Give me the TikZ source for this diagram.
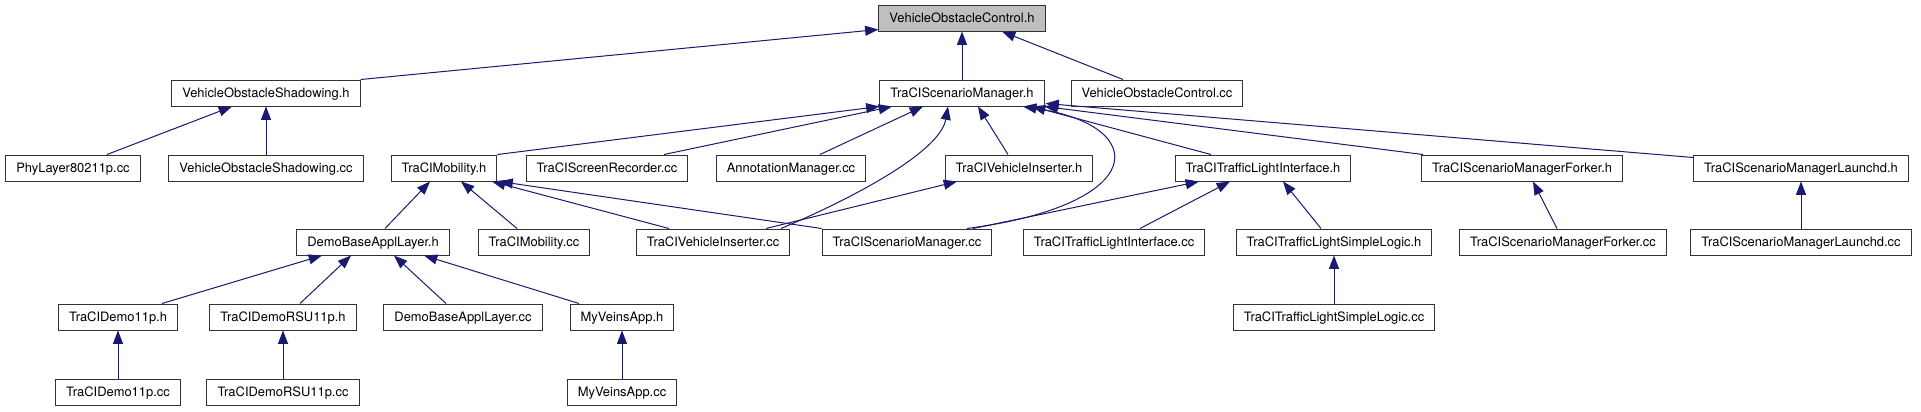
\documentclass[tikz,border=0pt]{standalone}
\usepackage{fontspec}
\setmainfont{TeX Gyre Heros}
\usetikzlibrary{arrows.meta, calc}
\definecolor{DotEdge}{RGB}{25,25,112}
\definecolor{DotRoot}{RGB}{191,191,191}

\begin{document}
\begin{tikzpicture}[x=0.75pt, y=-0.75pt,
  file/.style={rectangle, draw=black!80, fill=white, line width=0.75pt, minimum height=19.5pt, inner xsep=7.9pt, inner ysep=0pt, text height=7pt, text depth=0pt, font=\fontsize{9.7}{11}\selectfont},
  rootfile/.style={file, fill=DotRoot},
  inc/.style={-{Triangle[length=10pt,width=7.5pt]}, line width=0.75pt, DotEdge}
]
\useasboundingbox (0,0) rectangle (1921,411);

% Root
\node[rootfile] (voc_h) at (962,18) {VehicleObstacleControl.h};

% Row 1
\node[file] (vos_h) at (266,93) {VehicleObstacleShadowing.h};
\node[file] (tsm_h) at (962,93) {TraCIScenarioManager.h};
\node[file] (voc_cc) at (1157,93) {VehicleObstacleControl.cc};

% Row 2
\node[file] (phy_cc) at (73,168) {PhyLayer80211p.cc};
\node[file] (vos_cc) at (266,168) {VehicleObstacleShadowing.cc};
\node[file] (mob_h) at (444,168) {TraCIMobility.h};
\node[file] (rec_cc) at (607,168) {TraCIScreenRecorder.cc};
\node[file] (ann_cc) at (791,168) {AnnotationManager.cc};
\node[file] (vi_h) at (1019,168) {TraCIVehicleInserter.h};
\node[file] (tli_h) at (1263,168) {TraCITrafficLightInterface.h};
\node[file] (fork_h) at (1522,168) {TraCIScenarioManagerForker.h};
\node[file] (launch_h) at (1801,168) {TraCIScenarioManagerLaunchd.h};

% Row 3
\node[file] (dbal_h) at (373,242) {DemoBaseApplLayer.h};
\node[file] (mob_cc) at (534,242) {TraCIMobility.cc};
\node[file] (vi_cc) at (713,242) {TraCIVehicleInserter.cc};
\node[file] (tsm_cc) at (907,242) {TraCIScenarioManager.cc};
\node[file] (tli_cc) at (1114,242) {TraCITrafficLightInterface.cc};
\node[file] (tls_h) at (1334,242) {TraCITrafficLightSimpleLogic.h};
\node[file] (fork_cc) at (1563,242) {TraCIScenarioManagerForker.cc};
\node[file] (launch_cc) at (1801,242) {TraCIScenarioManagerLaunchd.cc};

% Row 4
\node[file] (demo_h) at (118,317) {TraCIDemo11p.h};
\node[file] (rsu_h) at (283,317) {TraCIDemoRSU11p.h};
\node[file] (dbal_cc) at (463,317) {DemoBaseApplLayer.cc};
\node[file] (veins_h) at (622,317) {MyVeinsApp.h};
\node[file] (tls_cc) at (1334,317) {TraCITrafficLightSimpleLogic.cc};

% Row 5
\node[file] (demo_cc) at (118,392) {TraCIDemo11p.cc};
\node[file] (rsu_cc) at (283,392) {TraCIDemoRSU11p.cc};
\node[file] (veins_cc) at (622,392) {MyVeinsApp.cc};

% includes of the root
\draw[inc] (vos_h.north east) -- ($(voc_h.south west)+(0,-2)$);
\draw[inc] (tsm_h.north) -- (voc_h.south);
\draw[inc] ($(voc_cc.north)+(-34,0)$) -- ($(voc_h.south)+(40,0)$);

% VehicleObstacleShadowing.h
\draw[inc] ($(phy_cc.north)+(34,0)$) -- ($(vos_h.south)+(-34,0)$);
\draw[inc] (vos_cc.north) -- (vos_h.south);

% TraCIScenarioManager.h
\draw[inc] (mob_h.north east) -- (tsm_h.south west);
\draw[inc] ($(rec_cc.north)+(57,0)$) -- ($(tsm_h.south)+(-70,0)$);
\draw[inc] ($(ann_cc.north)+(29,0)$) -- ($(tsm_h.south)+(-39,0)$);
\draw[inc] ($(vi_cc.north)+(68,0)$) .. controls +(69,-29) and +(-8,46) .. ($(tsm_h.south)+(-14,0)$);
\draw[inc] ($(vi_h.north)+(-11,0)$) -- ($(tsm_h.south)+(16,0)$);
\draw[inc] ($(tsm_cc.north)+(60,0)$) .. controls +(183,-24) and +(128,19) .. ($(tsm_h.south)+(61,0)$);
\draw[inc] ($(tli_h.north)+(-52,0)$) -- ($(tsm_h.south)+(70,0)$);
\draw[inc] ($(fork_h.north west)+(2,0)$) -- (tsm_h.south east);
\draw[inc] ($(launch_h.north west)+(0,3)$) -- ($(tsm_h.south east)+(1,-3)$);

% TraCIMobility.h
\draw[inc] ($(dbal_h.north)+(12,0)$) -- ($(mob_h.south)+(-14,0)$);
\draw[inc] ($(mob_cc.north)+(-17,0)$) -- ($(mob_h.south)+(17,0)$);
\draw[inc] ($(vi_cc.north)+(-44,0)$) -- ($(mob_h.south)+(48,0)$);
\draw[inc] (tsm_cc.north west) -- ($(mob_h.south east)+(2,0)$);

% TraCIVehicleInserter.h and TraCITrafficLightInterface.h
\draw[inc] ($(vi_cc.north)+(53,0)$) -- ($(vi_h.south)+(-62,0)$);
\draw[inc] ($(tsm_cc.north)+(66,0)$) -- ($(tli_h.south)+(-64,0)$);
\draw[inc] ($(tli_cc.north)+(26,0)$) -- ($(tli_h.south)+(-33,0)$);
\draw[inc] ($(tls_h.north)+(-13,0)$) -- ($(tli_h.south)+(20,0)$);
\draw[inc] (tls_cc.north) -- (tls_h.south);

% Forker and Launchd
\draw[inc] ($(fork_cc.north)+(-6,0)$) -- ($(fork_h.south)+(11,0)$);
\draw[inc] (launch_cc.north) -- (launch_h.south);

% DemoBaseApplLayer.h
\draw[inc] ($(demo_h.north)+(44,0)$) -- ($(dbal_h.south)+(-51,0)$);
\draw[inc] ($(rsu_h.north)+(17,0)$) -- ($(dbal_h.south)+(-22,0)$);
\draw[inc] ($(dbal_cc.north)+(-17,0)$) -- ($(dbal_h.south)+(21,0)$);
\draw[inc] ($(veins_h.north)+(-43,0)$) -- ($(dbal_h.south)+(51,0)$);

% last row
\draw[inc] (demo_cc.north) -- (demo_h.south);
\draw[inc] (rsu_cc.north) -- (rsu_h.south);
\draw[inc] (veins_cc.north) -- (veins_h.south);
\end{tikzpicture}
\end{document}
